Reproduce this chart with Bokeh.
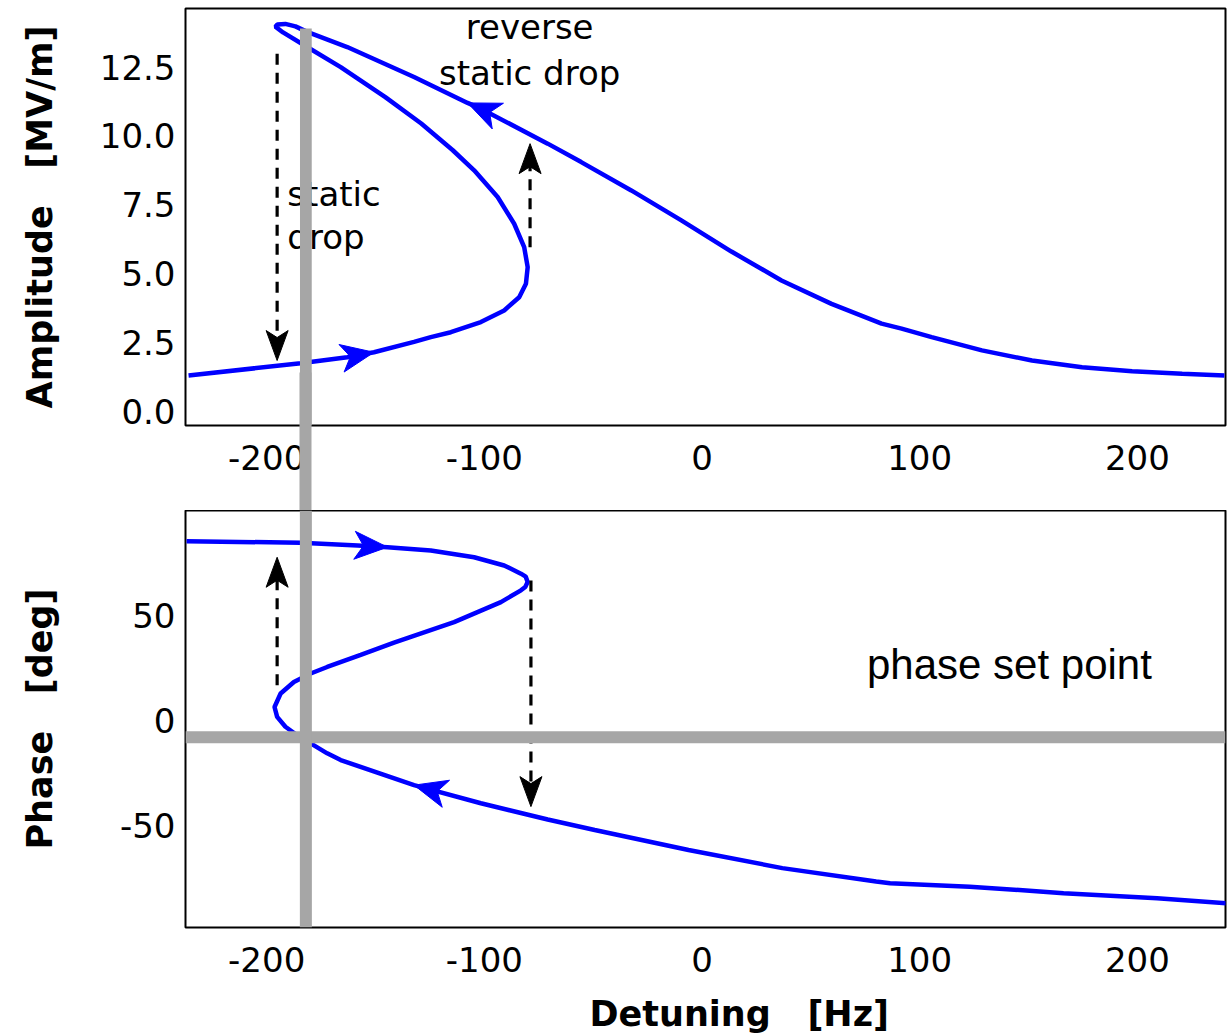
import math
from bokeh.plotting import figure
from bokeh.layouts import column
from bokeh.models import (Range1d, FixedTicker, Span, BoxAnnotation, Title,
                          NumeralTickFormatter, LinearAxis)
from bokeh.core.properties import value
from bokeh.embed import file_html
from bokeh.resources import INLINE

# ---------------- data ----------------
DETUNING_AMP = [-235.9, -184.4, -163.0, -150.7, -132.3, -124.6, -115.4, -101.6, -90.9, -84.0,
                -80.9, -80.1, -81.7, -86.3, -93.9, -104.7, -114.5, -129.0, -145.5, -166.0,
                -181.4, -192.5, -196.0, -195.1, -191.4, -186.8, -181.4, -163.0, -132.3, -107.7,
                -101.6, -70.9, -55.5, -32.5, -9.5, 13.5, 36.5, 59.5, 82.5, 91.7,
                105.5, 128.6, 151.6, 174.6, 197.6, 220.6, 240.0]
AMPLITUDE = [1.30, 1.74, 1.96, 2.14, 2.52, 2.69, 2.87, 3.24, 3.66, 4.14,
             4.63, 5.23, 5.96, 6.81, 7.78, 8.75, 9.48, 10.45, 11.41, 12.50,
             13.23, 13.76, 13.97, 14.05, 14.07, 13.98, 13.78, 13.23, 12.14, 11.20,
             10.99, 9.72, 9.05, 8.02, 6.93, 5.80, 4.75, 3.90, 3.18, 3.00,
             2.69, 2.21, 1.84, 1.60, 1.45, 1.36, 1.30]

DETUNING_PHASE = [-236.8, -184.4, -158.2, -144.5, -124.6, -104.7, -90.9, -83.2, -81.0, -80.1,
                  -81.2, -83.2, -92.4, -113.9, -141.5, -156.8, -172.2, -179.8, -187.5, -193.6,
                  -196.4, -195.2, -191.4, -186.0, -179.8, -172.2, -166.0, -132.3, -101.6, -70.9,
                  -49.3, -6.2, 36.9, 80.0, 86.4, 123.0, 166.1, 209.1, 241.0]
PHASE = [85.1, 84.4, 83.1, 82.3, 80.7, 77.5, 73.6, 69.7, 68.3, 65.7,
         63.4, 61.8, 56.2, 46.7, 37.0, 31.2, 25.4, 22.3, 18.3, 12.8,
         6.4, 1.7, -3.0, -7.0, -10.9, -15.6, -18.8, -30.7, -39.3, -47.0,
         -52.0, -61.5, -70.1, -76.5, -77.3, -78.9, -82.0, -84.4, -86.8]

X_TICKS = [-200, -100, 0, 100, 200]
AMP_TICKS = [0.0, 2.5, 5.0, 7.5, 10.0, 12.5]
PHASE_TICKS = [-50, 0, 50]

# working point (grey lines)
SET_DETUNING = -182.0
SET_PHASE = -8.0
SET_AMP_TOP = 13.9

# direction-of-sweep arrowheads: (from index, tip index) along the curves
AMP_FLOW = [(2, 3), (30, 29)]
PHASE_FLOW = [(2, 3), (28, 27)]

# dashed jump arrows
AMP_JUMP_X = [-195.2, -79.0]
AMP_JUMP_FROM = [12.99, 5.96]
AMP_JUMP_TO = [1.84, 9.72]
PHASE_JUMP_X = [-195.2, -78.6]
PHASE_JUMP_FROM = [16.7, 66.5]
PHASE_JUMP_TO = [77.5, -40.9]

# text annotations
AMP_TEXT = ["reverse", "static drop"]
AMP_TEXT_X = [-79.2, -79.2]
AMP_TEXT_Y = [13.95, 12.29]
AMP_TEXT2 = ["static", "drop"]
AMP_TEXT2_X = [-190.5, -190.5]
AMP_TEXT2_Y = [7.90, 6.32]
PHASE_TEXT = ["phase set point"]
PHASE_TEXT_X = [75.8]
PHASE_TEXT_Y = [26.5]

X_RANGE = (-237.3, 240.5)
AMP_RANGE = (-0.52, 14.63)
PHASE_RANGE = (-98.3, 99.7)

BLUE = "#0000ff"
GREY = "#a6a6a6"
FONT = "DejaVu Sans"
NB = "\u00a0"
FRAME_W = 1040
FRAME_H = 417


def style(p, yticks):
    p.outline_line_color = "black"
    p.outline_line_width = 2
    p.background_fill_color = "white"
    p.border_fill_color = "white"
    p.xgrid.visible = False
    p.ygrid.visible = False
    for ax in (p.xaxis[0], p.yaxis[0]):
        ax.axis_line_color = None
        ax.major_tick_line_color = None
        ax.minor_tick_line_color = None
        ax.major_tick_out = 0
        ax.minor_tick_out = 0
        ax.major_label_text_font = FONT
        ax.major_label_text_font_size = "34px"
        ax.major_label_text_color = "black"
        ax.axis_label_text_font = FONT
        ax.axis_label_text_font_size = "35px"
        ax.axis_label_text_font_style = "bold"
        ax.axis_label_text_color = "black"
    p.xaxis.ticker = FixedTicker(ticks=X_TICKS)
    p.xaxis.formatter = NumeralTickFormatter(format="0")
    p.yaxis.ticker = FixedTicker(ticks=yticks)
    p.xaxis.major_label_standoff = 19
    p.yaxis.major_label_standoff = 10


def head(x_tip, y_tip, x_from, y_from, sx, sy, length, width, notch):
    """Arrowhead polygon (tip, back corner, notch, back corner) in data units."""
    dx = (x_tip - x_from) * sx
    dy = (y_tip - y_from) * sy
    n = math.hypot(dx, dy)
    ux, uy = dx / n, dy / n
    nx, ny = -uy, ux
    pts = [(0.0, 0.0),
           (-length * ux + width / 2 * nx, -length * uy + width / 2 * ny),
           (-(length - notch) * ux, -(length - notch) * uy),
           (-length * ux - width / 2 * nx, -length * uy - width / 2 * ny)]
    return ([x_tip + px / sx for px, _ in pts], [y_tip + py / sy for _, py in pts])


def decorate(p, xs, ys, flow, jx, j0, j1, yr):
    sx = FRAME_W / (X_RANGE[1] - X_RANGE[0])
    sy = FRAME_H / (yr[1] - yr[0])
    p.line(xs, ys, line_color=BLUE, line_width=4.5)
    hx, hy = [], []
    for i, j in flow:
        a, b = head(xs[j], ys[j], xs[i], ys[i], sx, sy, 33, 28, 9)
        hx.append(a)
        hy.append(b)
    p.patches(hx, hy, fill_color=BLUE, line_color=BLUE, line_width=1)
    kx, ky, sx0, sy0, sx1, sy1 = [], [], [], [], [], []
    for x, y0, y1 in zip(jx, j0, j1):
        a, b = head(x, y1, x, y0, sx, sy, 30, 22, 7)
        kx.append(a)
        ky.append(b)
        sx0.append(x)
        sy0.append(y0)
        sx1.append(a[2])
        sy1.append(b[2])
    p.segment(sx0, sy0, sx1, sy1, line_color="black", line_width=3.2, line_dash="11 8")
    p.patches(kx, ky, fill_color="black", line_color="black", line_width=1)


# ---------------- top panel: amplitude ----------------
p1 = figure(frame_width=FRAME_W, frame_height=FRAME_H, output_backend="svg",
            toolbar_location=None,
            x_range=Range1d(*X_RANGE), y_range=Range1d(*AMP_RANGE),
            min_border_left=185, min_border_right=7, min_border_top=8,
            min_border_bottom=0)
style(p1, AMP_TICKS)
p1.yaxis.formatter = NumeralTickFormatter(format="0.0")
p1.yaxis.axis_label = "Amplitude" + NB * 3 + "[MV/m]"
p1.yaxis.axis_label_standoff = 37

decorate(p1, DETUNING_AMP, AMPLITUDE, AMP_FLOW, AMP_JUMP_X, AMP_JUMP_FROM, AMP_JUMP_TO, AMP_RANGE)
p1.text(AMP_TEXT_X, AMP_TEXT_Y, text=AMP_TEXT, text_font=value(FONT),
        text_font_size="34px", text_align="center", text_baseline="alphabetic",
        text_color="black")
p1.text(AMP_TEXT2_X, AMP_TEXT2_Y, text=AMP_TEXT2, text_font=value(FONT),
        text_font_size="34px", text_align="left", text_baseline="alphabetic",
        text_color="black")

# grey vertical line: inside the upper frame ...
p1.add_layout(BoxAnnotation(left=SET_DETUNING - 2.7, right=SET_DETUNING + 2.7,
                            top=SET_AMP_TOP, fill_color=GREY, fill_alpha=1.0,
                            line_color=None, level="overlay"))
# ... and through the gap between the panels (a single long grey tick, no label)
gap_axis = LinearAxis(ticker=FixedTicker(ticks=[SET_DETUNING]),
                      major_tick_in=100, major_tick_out=38,
                      major_tick_line_color=GREY, major_tick_line_width=12,
                      major_tick_line_cap="butt",
                      minor_tick_line_color=None, minor_tick_in=0, minor_tick_out=0,
                      axis_line_color=None,
                      major_label_overrides={SET_DETUNING: ""},
                      major_label_text_color=None, major_label_text_font_size="1px",
                      major_label_standoff=0)
p1.add_layout(gap_axis, "below")

# ---------------- bottom panel: phase ----------------
p2 = figure(frame_width=FRAME_W, frame_height=FRAME_H, output_backend="svg",
            toolbar_location=None,
            x_range=Range1d(*X_RANGE), y_range=Range1d(*PHASE_RANGE),
            min_border_left=185, min_border_right=7, min_border_top=0,
            min_border_bottom=107)
style(p2, PHASE_TICKS)
p2.yaxis.formatter = NumeralTickFormatter(format="0")
p2.yaxis.axis_label = "Phase" + NB * 3 + "[deg]"
p2.yaxis.axis_label_standoff = 57

decorate(p2, DETUNING_PHASE, PHASE, PHASE_FLOW, PHASE_JUMP_X, PHASE_JUMP_FROM, PHASE_JUMP_TO, PHASE_RANGE)
p2.text(PHASE_TEXT_X, PHASE_TEXT_Y, text=PHASE_TEXT, text_font=value("Liberation Sans"),
        text_font_size="42px", text_align="left", text_baseline="alphabetic",
        text_color="black")

p2.add_layout(Span(location=SET_PHASE, dimension="width", line_color=GREY, line_width=12))
p2.add_layout(Span(location=SET_DETUNING, dimension="height", line_color=GREY, line_width=12))

p2.add_layout(Title(text="Detuning" + NB * 3 + "[Hz]", align="left", offset=404, standoff=34,
                    text_font=FONT, text_font_size="35px", text_font_style="bold",
                    text_color="black"), "below")

layout = column(p1, p2, spacing=0)
open("out.html", "w").write(file_html(layout, INLINE))
